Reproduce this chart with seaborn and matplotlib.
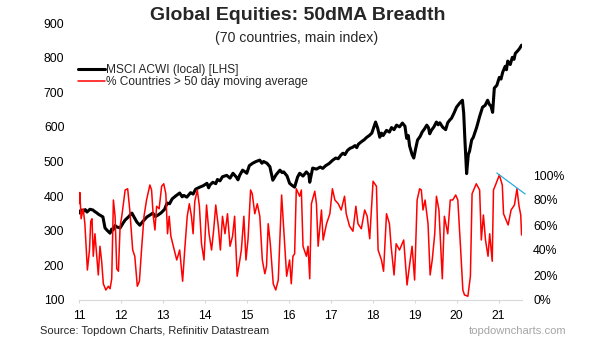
import numpy as np
import pandas as pd
import matplotlib
matplotlib.use("Agg")
import matplotlib.pyplot as plt
import seaborn as sns

# ---------------- data ----------------
acwi_year = [2011.00, 2011.05, 2011.10, 2011.15, 2011.19, 2011.26, 2011.33, 2011.38, 2011.42, 2011.46,
             2011.50, 2011.57, 2011.62, 2011.68, 2011.74, 2011.78, 2011.81, 2011.86, 2011.90, 2011.98,
             2012.05, 2012.10, 2012.18, 2012.26, 2012.32, 2012.38, 2012.45, 2012.53, 2012.62, 2012.70,
             2012.76, 2012.82, 2012.88, 2012.96, 2013.04, 2013.10, 2013.16, 2013.22, 2013.30, 2013.40,
             2013.46, 2013.50, 2013.57, 2013.66, 2013.72, 2013.78, 2013.88, 2013.96, 2014.05, 2014.09,
             2014.12, 2014.19, 2014.26, 2014.30, 2014.36, 2014.42, 2014.52, 2014.60, 2014.67, 2014.75,
             2014.79, 2014.83, 2014.90, 2014.96, 2015.00, 2015.06, 2015.14, 2015.22, 2015.31, 2015.36,
             2015.40, 2015.48, 2015.55, 2015.62, 2015.70, 2015.79, 2015.84, 2015.88, 2015.96, 2016.02,
             2016.09, 2016.14, 2016.21, 2016.26, 2016.34, 2016.42, 2016.48, 2016.50, 2016.57, 2016.66,
             2016.75, 2016.81, 2016.88, 2016.96, 2017.05, 2017.12, 2017.18, 2017.24, 2017.29, 2017.34,
             2017.40, 2017.46, 2017.52, 2017.58, 2017.62, 2017.66, 2017.72, 2017.80, 2017.86, 2017.92,
             2017.98, 2018.04, 2018.07, 2018.12, 2018.17, 2018.21, 2018.25, 2018.33, 2018.40, 2018.45,
             2018.51, 2018.57, 2018.64, 2018.71, 2018.77, 2018.81, 2018.85, 2018.88, 2018.94, 2018.98,
             2019.03, 2019.07, 2019.13, 2019.18, 2019.24, 2019.29, 2019.33, 2019.36, 2019.40, 2019.46,
             2019.52, 2019.56, 2019.60, 2019.67, 2019.74, 2019.79, 2019.84, 2019.88, 2019.94, 2020.00,
             2020.07, 2020.14, 2020.17, 2020.20, 2020.24, 2020.28, 2020.31, 2020.36, 2020.40, 2020.44,
             2020.48, 2020.55, 2020.62, 2020.68, 2020.74, 2020.78, 2020.82, 2020.86, 2020.90, 2020.96,
             2021.02, 2021.06, 2021.10, 2021.16, 2021.19, 2021.22, 2021.28, 2021.33, 2021.37, 2021.40,
             2021.46, 2021.50, 2021.55]
acwi_value = [351, 360, 356, 361, 354, 362, 360, 355, 352, 348,
              345, 340, 308, 300, 293, 305, 302, 315, 311, 308,
              322, 331, 340, 351, 338, 325, 316, 328, 340, 346,
              351, 341, 345, 352, 362, 380, 378, 392, 400, 409,
              398, 402, 397, 410, 406, 420, 426, 430, 437, 424,
              432, 440, 436, 448, 444, 456, 460, 452, 466, 455,
              447, 460, 475, 470, 466, 488, 495, 500, 504, 495,
              500, 495, 485, 446, 462, 475, 468, 470, 458, 437,
              430, 426, 455, 466, 458, 470, 462, 440, 481, 478,
              484, 480, 488, 494, 504, 510, 508, 518, 524, 520,
              532, 538, 541, 546, 540, 550, 556, 563, 570, 575,
              582, 604, 614, 596, 570, 582, 575, 590, 585, 598,
              592, 605, 600, 611, 602, 567, 575, 545, 520, 510,
              540, 562, 572, 585, 595, 605, 598, 580, 590, 600,
              614, 606, 612, 599, 592, 612, 620, 625, 640, 657,
              668, 677, 640, 560, 465, 520, 530, 562, 570, 585,
              599, 630, 657, 662, 677, 665, 660, 642, 712, 720,
              743, 738, 758, 775, 765, 790, 780, 801, 795, 812,
              820, 826, 836]

breadth_year = [2011.00, 2011.02, 2011.05, 2011.10, 2011.14, 2011.20, 2011.25, 2011.28, 2011.31, 2011.34,
                2011.38, 2011.42, 2011.46, 2011.50, 2011.54, 2011.58, 2011.64, 2011.70, 2011.74, 2011.78,
                2011.82, 2011.86, 2011.90, 2011.94, 2011.98, 2012.02, 2012.10, 2012.16, 2012.21, 2012.28,
                2012.33, 2012.39, 2012.44, 2012.49, 2012.55, 2012.61, 2012.69, 2012.73, 2012.77, 2012.81,
                2012.85, 2012.91, 2012.97, 2013.02, 2013.07, 2013.11, 2013.15, 2013.19, 2013.25, 2013.33,
                2013.40, 2013.47, 2013.52, 2013.58, 2013.63, 2013.68, 2013.72, 2013.76, 2013.82, 2013.87,
                2013.92, 2013.98, 2014.04, 2014.10, 2014.16, 2014.21, 2014.26, 2014.32, 2014.37, 2014.42,
                2014.48, 2014.54, 2014.60, 2014.66, 2014.71, 2014.77, 2014.82, 2014.87, 2014.93, 2014.98,
                2015.03, 2015.09, 2015.13, 2015.19, 2015.25, 2015.31, 2015.37, 2015.43, 2015.47, 2015.51,
                2015.56, 2015.63, 2015.69, 2015.75, 2015.83, 2015.95, 2016.02, 2016.06, 2016.10, 2016.14,
                2016.18, 2016.26, 2016.30, 2016.34, 2016.42, 2016.46, 2016.50, 2016.54, 2016.62, 2016.66,
                2016.70, 2016.78, 2016.82, 2016.90, 2016.98, 2017.04, 2017.10, 2017.18, 2017.25, 2017.33,
                2017.37, 2017.45, 2017.53, 2017.60, 2017.65, 2017.73, 2017.81, 2017.87, 2017.93, 2018.01,
                2018.09, 2018.13, 2018.21, 2018.26, 2018.33, 2018.40, 2018.44, 2018.51, 2018.56, 2018.64,
                2018.74, 2018.82, 2018.88, 2018.94, 2019.00, 2019.06, 2019.12, 2019.16, 2019.20, 2019.25,
                2019.32, 2019.37, 2019.42, 2019.48, 2019.52, 2019.58, 2019.66, 2019.71, 2019.79, 2019.85,
                2019.91, 2019.98, 2020.03, 2020.10, 2020.15, 2020.19, 2020.27, 2020.33, 2020.37, 2020.47,
                2020.55, 2020.59, 2020.64, 2020.69, 2020.75, 2020.79, 2020.85, 2020.88, 2020.94, 2021.02,
                2021.09, 2021.12, 2021.18, 2021.23, 2021.30, 2021.38, 2021.44, 2021.49, 2021.53, 2021.55]
breadth_pct = [77, 86, 65, 73, 61, 24, 40, 63, 65, 35,
               53, 37, 20, 43, 31, 13, 8, 11, 9, 17,
               80, 67, 25, 23, 59, 67, 88, 89, 72, 40,
               35, 11, 15, 40, 67, 80, 92, 88, 67, 56,
               75, 73, 91, 93, 85, 53, 67, 51, 43, 32,
               40, 15, 40, 67, 77, 67, 53, 79, 88, 75,
               45, 32, 76, 53, 40, 56, 76, 59, 40, 67,
               53, 69, 43, 51, 67, 19, 29, 40, 67, 32,
               49, 88, 85, 69, 77, 67, 32, 21, 27, 61,
               45, 13, 8, 16, 84, 19, 32, 13, 35, 37,
               89, 83, 88, 43, 35, 43, 17, 77, 87, 77,
               43, 72, 48, 61, 69, 89, 80, 77, 72, 83,
               69, 59, 55, 75, 61, 57, 72, 67, 49, 95,
               91, 40, 32, 23, 69, 61, 43, 20, 45, 40,
               48, 12, 28, 43, 16, 80, 89, 88, 72, 80,
               61, 20, 32, 53, 83, 72, 17, 67, 53, 80,
               80, 84, 80, 39, 8, 4, 3, 19, 85, 93,
               88, 48, 68, 48, 35, 53, 31, 88, 93, 100,
               92, 69, 64, 60, 72, 76, 89, 75, 68, 52]

trend_year = [2020.96, 2021.635]
trend_pct = [101.6, 84.8]

year_ticks = list(range(2011, 2022))
year_labels = [str(y)[2:] for y in year_ticks]
left_ticks = [100, 200, 300, 400, 500, 600, 700, 800, 900]
right_ticks = [0, 20, 40, 60, 80, 100]

title = "Global Equities: 50dMA Breadth"
subtitle = "(70 countries, main index)"
label_acwi = "MSCI ACWI (local) [LHS]"
label_breadth = "% Countries > 50 day moving average"
source = "Source: Topdown Charts, Refinitiv Datastream"
brand = "topdowncharts.com"

# ---------------- style ----------------
sns.set_theme(style="white")
plt.rcParams["font.family"] = ["Liberation Sans", "DejaVu Sans"]

W, H = 605, 341
fig = plt.figure(figsize=(W / 100, H / 100), dpi=100)
ax_l, ax_r, ax_t, ax_b = 79, 522, 23, 300
ax = fig.add_axes([ax_l / W, 1 - ax_b / H, (ax_r - ax_l) / W, (ax_b - ax_t) / H])
ax2 = ax.twinx()

df_a = pd.DataFrame({"year": acwi_year, "value": acwi_value})
df_b = pd.DataFrame({"year": breadth_year, "pct": breadth_pct})

sns.lineplot(data=df_a, x="year", y="value", ax=ax, color="black", lw=2.2,
             label=label_acwi, legend=False, sort=False)
sns.lineplot(data=df_b, x="year", y="pct", ax=ax2, color="#ff0000", lw=1.1,
             label=label_breadth, legend=False, sort=False)
ax2.plot(trend_year, trend_pct, color="#29abe2", lw=0.9, clip_on=False)

ax.set_xlim(2011, 2021.56)
ax.set_ylim(100, 900)
ax2.set_ylim(0, 100 * 277 / 125)

for a in (ax, ax2):
    for s in a.spines.values():
        s.set_visible(False)
    a.set_xlabel("")
    a.set_ylabel("")
    a.grid(False)
ax.spines["bottom"].set_visible(True)
ax.spines["bottom"].set_color("#d9d9d9")
ax.spines["bottom"].set_linewidth(0.8)

ax.set_xticks(year_ticks)
ax.set_xticklabels(year_labels)
ax.set_yticks(left_ticks)
ax.set_yticklabels([str(v) for v in left_ticks])
ax2.set_yticks(right_ticks)
ax2.set_yticklabels([f"{v}%" for v in right_ticks])

fs = 8.8
ax.tick_params(axis="x", length=2.5, width=0.8, color="#d9d9d9", pad=5, labelsize=fs, labelcolor="black", bottom=True)
ax.tick_params(axis="y", length=0, pad=10.5, labelsize=fs, labelcolor="black", left=True)
ax2.tick_params(axis="y", length=0, pad=8, labelsize=fs, labelcolor="black", right=True)

h1, l1 = ax.get_legend_handles_labels()
h2, l2 = ax2.get_legend_handles_labels()
leg = ax.legend(h1 + h2, l1 + l2, loc="upper left", bbox_to_anchor=(-0.003, 0.851),
                frameon=False, fontsize=8.6, handlelength=2.25, handletextpad=0.12,
                labelspacing=0.0, borderaxespad=0, borderpad=0)

fig.text(298 / W, 1 - 15.5 / H, title, ha="center", va="center", fontsize=14, fontweight="bold")
fig.text(297 / W, 1 - 38 / H, subtitle, ha="center", va="center", fontsize=10.2)
fig.text(40 / W, 1 - 331 / H, source, ha="left", va="center", fontsize=8.05)
fig.text(566 / W, 1 - 331 / H, brand, ha="right", va="center", fontsize=8.1, color="#a6a6a6")

fig.savefig("out.png", dpi=100)
